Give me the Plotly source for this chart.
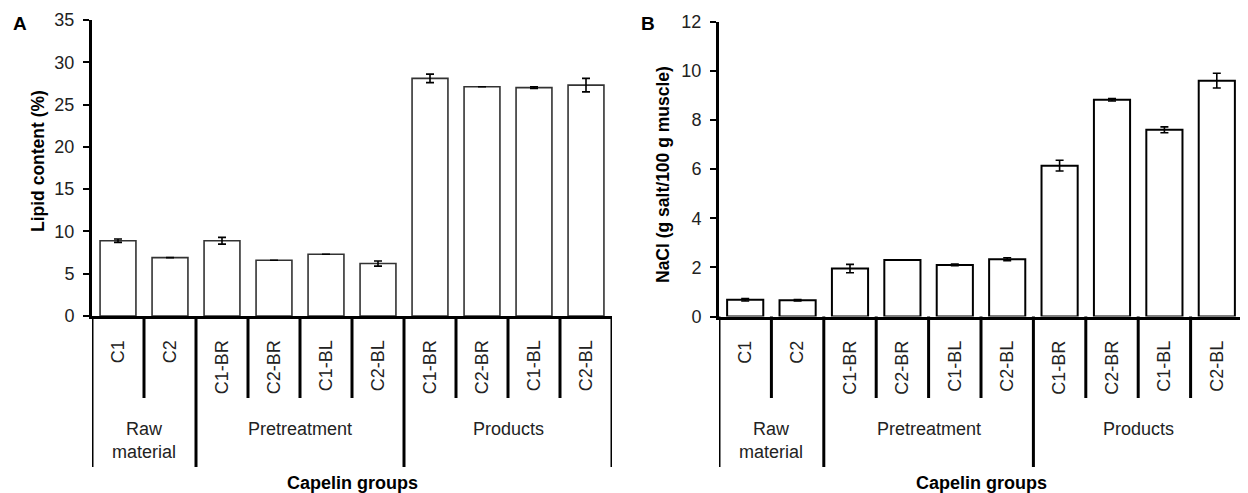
import plotly.graph_objects as go

categories = ["C1", "C2", "C1-BR", "C2-BR", "C1-BL", "C2-BL", "C1-BR", "C2-BR", "C1-BL", "C2-BL"]
groups = ["Raw<br>material", "Pretreatment", "Products"]
group_sizes = [2, 4, 4]

lipid = [8.9, 6.9, 8.9, 6.6, 7.3, 6.2, 28.1, 27.1, 27.0, 27.3]
lipid_err = [0.2, 0.0, 0.4, 0.0, 0.0, 0.3, 0.5, 0.0, 0.1, 0.8]

nacl = [0.68, 0.66, 1.95, 2.3, 2.1, 2.33, 6.14, 8.82, 7.6, 9.6]
nacl_err = [0.05, 0.03, 0.17, 0.0, 0.03, 0.06, 0.22, 0.05, 0.12, 0.3]

y_titles = ["Lipid content (%)", "NaCl (g salt/100 g muscle)"]
panel_letters = ["A", "B"]
x_title = "Capelin groups"
y_ranges = [[0, 35], [0, 12]]
y_dticks = [5, 2]

OFF = 8.0  # page body margin
W = 1248.0 - OFF
H = 493.0 - OFF
def py(px):
    return 1 - (px - OFF) / H
def pxx(px):
    return (px - OFF) / W

FONT = "Liberation Sans, Arial, sans-serif"
idx = list(range(len(categories)))

fig = go.Figure()
fig.add_trace(go.Bar(
    x=idx, y=lipid, width=0.69, xaxis="x", yaxis="y",
    marker=dict(color="white", line=dict(color="#333", width=1.6)),
    error_y=dict(type="data", array=lipid_err, visible=True, color="black", thickness=1.6, width=4),
    showlegend=False, hoverinfo="skip"))
fig.add_trace(go.Bar(
    x=idx, y=nacl, width=0.69, xaxis="x2", yaxis="y2",
    marker=dict(color="white", line=dict(color="black", width=2)),
    error_y=dict(type="data", array=nacl_err, visible=True, color="black", thickness=1.6, width=4),
    showlegend=False, hoverinfo="skip"))

x_domains = [[pxx(92), pxx(612)], [pxx(719), pxx(1243)]]
y_domains = [[py(316), py(20)], [py(316.5), py(21.7)]]

axis_common_x = dict(range=[-0.5, len(categories) - 0.5], showgrid=False, zeroline=False,
                     showline=True, linewidth=3, linecolor="black", ticks="",
                     tickmode="array", tickvals=idx, ticktext=categories, tickangle=-90,
                     ticklabelstandoff=14, automargin=False,
                     tickfont=dict(family=FONT, size=18, color="#222"))
axis_common_y = dict(showgrid=False, zeroline=False, showline=True, linewidth=3,
                     linecolor="black", ticks="outside", ticklen=6, tickwidth=2,
                     tickcolor="black", ticklabelstandoff=5, automargin=False,
                     tickfont=dict(family=FONT, size=18, color="#222"))

fig.update_layout(
    width=int(W), height=int(H), autosize=False,
    margin=dict(l=0, r=0, t=0, b=0, autoexpand=False),
    plot_bgcolor="white", paper_bgcolor="white",
    xaxis=dict(domain=x_domains[0], anchor="y", **axis_common_x),
    yaxis=dict(domain=y_domains[0], anchor="x", range=y_ranges[0], dtick=y_dticks[0], **axis_common_y),
    xaxis2=dict(domain=x_domains[1], anchor="y2", **axis_common_x),
    yaxis2=dict(domain=y_domains[1], anchor="x2", range=y_ranges[1], dtick=y_dticks[1], **axis_common_y),
)

shapes = []
annotations = []
bounds = [0]
for s in group_sizes:
    bounds.append(bounds[-1] + s)
for p, (xr, dom) in enumerate([("x", x_domains[0]), ("x2", x_domains[1])]):
    ybase = y_domains[p][0]
    for b in range(len(categories) + 1):
        long_line = b in bounds
        shapes.append(dict(type="line", xref=xr, yref="paper",
                           x0=b - 0.5, x1=b - 0.5, y0=ybase, y1=py(467 if long_line else 398),
                           line=dict(color="black", width=3)))
    for g, name in enumerate(groups):
        cx = (bounds[g] + bounds[g + 1] - 1) / 2
        annotations.append(dict(x=cx, y=py(417), xref=xr, yref="paper", text=name,
                                showarrow=False, yanchor="top", xanchor="center",
                                font=dict(family=FONT, size=18, color="#222")))
    annotations.append(dict(x=(dom[0] + dom[1]) / 2, y=py(483), xref="paper", yref="paper",
                            text="<b>" + x_title + "</b>", showarrow=False,
                            xanchor="center", yanchor="middle",
                            font=dict(family=FONT, size=18, color="black")))

ytitle_x = [38, 663]
ytitle_y = [161, 175]
letter_x = [20, 648]
for p in range(2):
    annotations.append(dict(x=pxx(ytitle_x[p]), y=py(ytitle_y[p]), xref="paper", yref="paper",
                            text="<b>" + y_titles[p] + "</b>", textangle=-90, showarrow=False,
                            xanchor="center", yanchor="middle",
                            font=dict(family=FONT, size=17.5, color="black")))
    annotations.append(dict(x=pxx(letter_x[p]), y=py(24), xref="paper", yref="paper",
                            text="<b>" + panel_letters[p] + "</b>", showarrow=False,
                            xanchor="center", yanchor="middle",
                            font=dict(family=FONT, size=19, color="black")))

fig.update_layout(shapes=shapes, annotations=annotations)
fig.write_html("out.html")
